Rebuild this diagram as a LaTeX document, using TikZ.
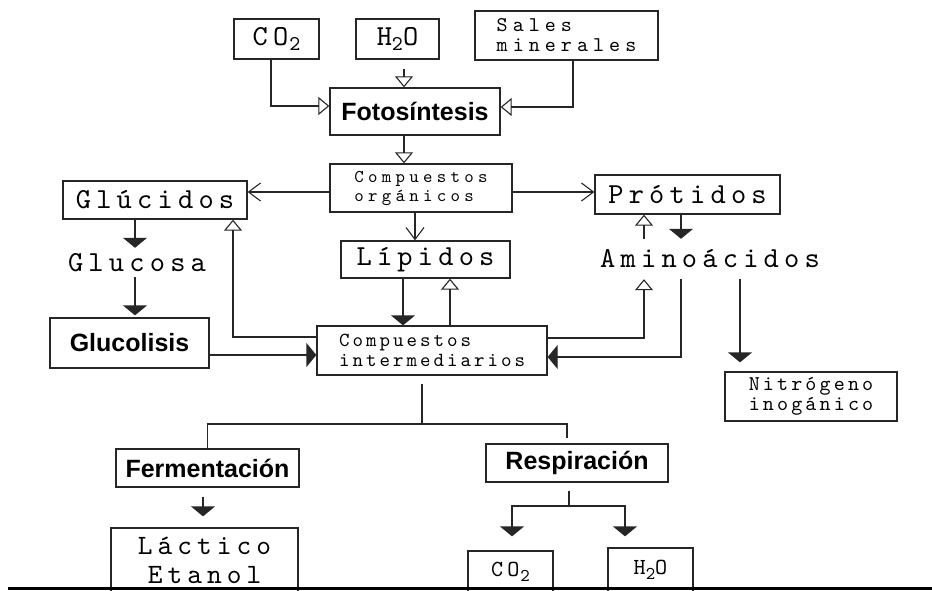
\documentclass[tikz,border=0pt]{standalone}
\usepackage{fontspec}
\setsansfont{Liberation Sans}
\newfontfamily\widemono{lmmono10-regular.otf}[LetterSpace=18]
\newfontfamily\loosemono{lmmono10-regular.otf}[LetterSpace=24]
\newfontfamily\narrowmono{lmmono10-regular.otf}[LetterSpace=15]
\usetikzlibrary{arrows.meta}

\begin{document}
\begin{tikzpicture}[x=1pt, y=-1pt,
  box/.style={draw=black!85, line width=1.3pt, inner sep=0pt},
  bigtxt/.style={font=\widemono\fontsize{29}{29}\selectfont},
  midtxt/.style={font=\loosemono\fontsize{21}{20}\selectfont, align=left},
  smalltxt/.style={font=\narrowmono\fontsize{20}{20}\selectfont, align=left},
  boldtxt/.style={font=\sffamily\bfseries\fontsize{25}{25}\selectfont},
  wire/.style={draw=black!85, line width=1.3pt},
  openhead/.style={wire, -{Triangle[open, width=18pt, length=11pt, line width=1.1pt]}},
  fullhead/.style={wire, -{Triangle[width=24pt, length=10pt]}},
  barbhead/.style={wire, -{Straight Barb[width=18pt, length=12pt, line width=1.1pt]}}]
\clip (0,0) rectangle (932,590);
\fill[white] (0,0) rectangle (932,590);

% Photosynthesis inputs
\node[box, bigtxt, minimum width=85pt, minimum height=40pt] (co2a) at (276.5,39)
  {CO\hspace{1pt}\raisebox{-5pt}{\fontsize{21}{21}\selectfont 2}};
\node[box, bigtxt, minimum width=83pt, minimum height=40pt] (h2oa) at (397.5,39)
  {H\raisebox{-5pt}{\fontsize{21}{21}\selectfont 2}O};
\node[box, midtxt, minimum width=183pt, minimum height=49pt] (sales) at (566.5,35.5)
  {Sales\\minerales};
\node[box, boldtxt, minimum width=170pt, minimum height=47pt] (foto) at (415,111.5) {Fotosíntesis};

% Main compounds
\node[box, font=\loosemono\fontsize{18}{19}\selectfont, align=left,
  minimum width=182pt, minimum height=48pt] (org) at (421,188) {Compuestos\\orgánicos};
\node[box, bigtxt, minimum width=184pt, minimum height=38pt] (gluc) at (155,200) {Glúcidos};
\node[box, bigtxt, minimum width=185pt, minimum height=39pt] (prot) at (687.5,194.5) {Prótidos};
\node[box, bigtxt, minimum width=169pt, minimum height=37pt] (lip) at (425.5,259.5) {Lípidos};
\node[bigtxt, inner sep=0pt, minimum height=29pt] (glucosa) at (137,262.5) {Glucosa};
\node[bigtxt, inner sep=0pt, minimum height=40pt] (amino) at (710,259) {Aminoácidos};
\node[box, boldtxt, minimum width=159pt, minimum height=50pt] (glucol) at (129.5,343) {Glucolisis};
\node[box, smalltxt, minimum width=230pt, minimum height=49pt] (inter) at (432,350.5)
  {Compuestos\\intermediarios};
\node[box, font=\narrowmono\fontsize{21}{20}\selectfont, align=left,
  minimum width=172pt, minimum height=49pt] (nitro) at (811,396.5) {Nitrógeno\\inogánico};

% Catabolism
\node[box, boldtxt, minimum width=183pt, minimum height=38pt] (ferm) at (207.5,468) {Fermentación};
\node[box, boldtxt, minimum width=182pt, minimum height=38pt] (resp) at (577,463) {Respiración};
\node[box, font=\widemono\fontsize{28}{29}\selectfont, align=center,
  minimum width=187pt, minimum height=64pt] (lact) at (204.5,560) {Láctico\\Etanol};
\node[box, font=\widemono\fontsize{23}{23}\selectfont, minimum width=85pt, minimum height=41pt]
  (co2b) at (510.5,571.5) {CO\hspace{1pt}\raisebox{-5pt}{\fontsize{18}{18}\selectfont 2}};
\node[box, font=\widemono\fontsize{23}{23}\selectfont, minimum width=85pt, minimum height=44pt]
  (h2ob) at (650.5,570) {H\raisebox{-5pt}{\fontsize{18}{18}\selectfont 2}O};

% Arrows into photosynthesis
\draw[openhead] ([xshift=-5.5pt]co2a.south) |- ([yshift=5.5pt]foto.west);
\draw[openhead] ([shift={(6.5,9)}]h2oa.south) -- ([xshift=6.5pt]h2oa.south |- foto.north);
\draw[openhead] ([xshift=6.5pt]sales.south) |- ([yshift=4.5pt]foto.east);
\draw[openhead] ([xshift=-11pt]foto.south) -- ([xshift=-11pt]foto.south |- org.north);

% Organic compounds
\draw[barbhead] ([yshift=-4pt]org.west) -- ([yshift=-4pt]org.west -| gluc.east);
\draw[barbhead] ([yshift=-4pt]org.east) -- ([yshift=-4pt]org.east -| prot.west);
\draw[barbhead] ([xshift=-6pt]org.south) -- ([xshift=-6pt]org.south |- lip.north);

% Glucids
\draw[fullhead] ([xshift=-20pt]gluc.south) -- ([xshift=-20pt]gluc.south |- glucosa.north);
\draw[fullhead, shorten >=2pt] ([xshift=-2pt]glucosa.south) -- ([xshift=-2pt]glucosa.south |- glucol.north);
\draw[fullhead] ([yshift=-12pt]glucol.east) -- ([yshift=-12pt]glucol.east -| inter.west);
\draw[openhead] ([yshift=13.5pt]inter.west) -| ([xshift=78pt]gluc.south);

% Lipids
\draw[fullhead] ([xshift=-22.5pt]lip.south) -- ([xshift=-22.5pt]lip.south |- inter.north);
\draw[openhead] ([xshift=24.5pt]lip.south |- inter.north) -- ([xshift=24.5pt]lip.south);

% Proteins and amino acids
\draw[fullhead] ([xshift=-6.5pt]prot.south) -- ([xshift=-6.5pt]prot.south |- amino.north);
\draw[openhead] ([xshift=-43.5pt]prot.south |- amino.north) -- ([xshift=-43.5pt]prot.south);
\draw[openhead] ([yshift=12.5pt]inter.east) -| ([xshift=-66pt]amino.south);
\draw[fullhead] ([xshift=-29pt]amino.south) |- ([yshift=-6.5pt]inter.east);
\draw[fullhead, shorten >=9pt] ([xshift=30pt]amino.south) -- ([xshift=30pt]amino.south |- nitro.north);

% Fermentation and respiration
\coordinate (split) at (422,424);
\draw[wire] ([shift={(-10,8)}]inter.south) -- (split);
\draw[wire] (ferm.north) |- (split) -| ([shift={(-10,-5)}]resp.north);
\draw[fullhead, shorten >=11pt] ([shift={(-4.5,9)}]ferm.south) -- ([xshift=-4.5pt]ferm.south |- lact.north);
\coordinate (rsplit) at (569,506);
\draw[wire] ([shift={(-8,8)}]resp.south) -- (rsplit);
\draw[fullhead, shorten >=14pt] (rsplit) -| ([xshift=1.5pt]co2b.north);
\draw[fullhead, shorten >=11pt] (rsplit) -| ([xshift=-25.5pt]h2ob.north);

% Bottom rule
\draw[line width=3pt] (8,588) -- (932,588);
\end{tikzpicture}
\end{document}
